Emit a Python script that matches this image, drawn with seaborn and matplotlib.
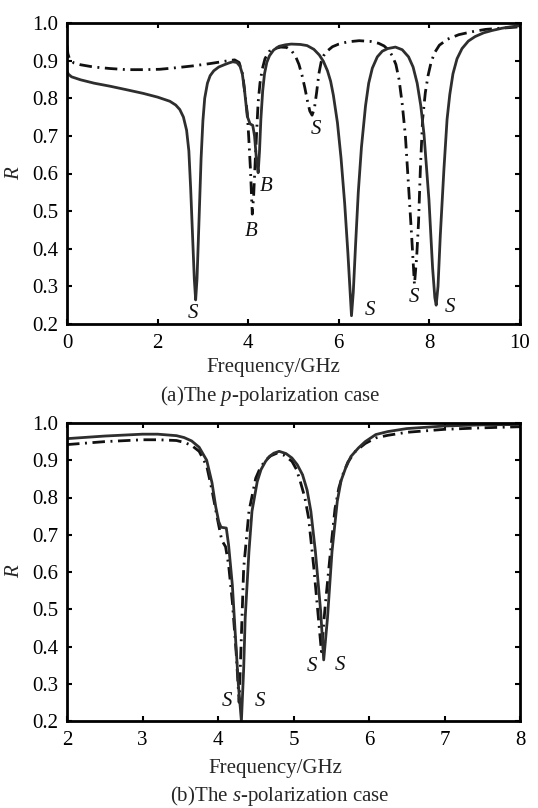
import matplotlib
matplotlib.use("Agg")
import matplotlib.pyplot as plt
import seaborn as sns

# ---------------- data ----------------
# (a) p-polarization, solid curve
p_solid_f = [0.0, 0.03, 0.1, 0.3, 0.6, 0.95, 1.3, 1.68, 2.0, 2.27, 2.40, 2.49, 2.57, 2.64, 2.69,
             2.73, 2.77, 2.81, 2.84, 2.87, 2.91, 2.96, 3.00, 3.04, 3.10, 3.16, 3.24, 3.35, 3.47,
             3.58, 3.66, 3.75, 3.82, 3.87, 3.92, 3.98, 4.04, 4.10, 4.14, 4.18, 4.22, 4.25, 4.28,
             4.32, 4.36, 4.41, 4.47, 4.56, 4.68, 4.82, 4.95, 5.15, 5.30, 5.45, 5.57, 5.66, 5.75,
             5.82, 5.88, 5.97, 6.05, 6.13, 6.20, 6.25, 6.28, 6.32, 6.37, 6.43, 6.50, 6.59, 6.66,
             6.74, 6.85, 6.96, 7.08, 7.25, 7.40, 7.54, 7.64, 7.73, 7.81, 7.88, 7.99, 8.07, 8.12,
             8.15, 8.19, 8.24, 8.32, 8.39, 8.45, 8.52, 8.61, 8.72, 8.86, 9.01, 9.2, 9.38, 9.6,
             9.8, 10.0]
p_solid_R = [0.872, 0.864, 0.857, 0.849, 0.840, 0.832, 0.823, 0.813, 0.803, 0.792, 0.782, 0.770,
             0.750, 0.715, 0.660, 0.560, 0.440, 0.320, 0.264, 0.320, 0.460, 0.640, 0.740, 0.800,
             0.840, 0.860, 0.873, 0.883, 0.889, 0.894, 0.897, 0.895, 0.885, 0.865, 0.820, 0.752,
             0.732, 0.728, 0.700, 0.640, 0.602, 0.660, 0.745, 0.820, 0.865, 0.895, 0.913, 0.928,
             0.938, 0.942, 0.944, 0.943, 0.940, 0.930, 0.915, 0.898, 0.873, 0.845, 0.808, 0.735,
             0.640, 0.520, 0.390, 0.285, 0.222, 0.285, 0.410, 0.550, 0.670, 0.780, 0.840, 0.880,
             0.910, 0.925, 0.932, 0.936, 0.929, 0.910, 0.883, 0.840, 0.780, 0.705, 0.530, 0.350,
             0.270, 0.250, 0.300, 0.434, 0.610, 0.744, 0.810, 0.865, 0.905, 0.932, 0.952, 0.964,
             0.974, 0.980, 0.986, 0.990, 0.993]

# (a) p-polarization, dash-dot curve
p_dash_f = [0.0, 0.02, 0.06, 0.15, 0.3, 0.59, 0.95, 1.32, 1.7, 2.05, 2.4, 2.78, 3.15, 3.52, 3.70,
            3.80, 3.88, 3.94, 3.98, 4.01, 4.05, 4.09, 4.12, 4.15, 4.19, 4.22, 4.26, 4.31, 4.37,
            4.46, 4.58, 4.72, 4.85, 4.96, 5.05, 5.12, 5.19, 5.25, 5.31, 5.36, 5.41, 5.46, 5.51,
            5.56, 5.61, 5.67, 5.75, 5.86, 6.00, 6.2, 6.45, 6.7, 6.88, 7.00, 7.10, 7.18, 7.26,
            7.33, 7.40, 7.47, 7.54, 7.61, 7.67, 7.72, 7.76, 7.80, 7.85, 7.91, 7.97, 8.04, 8.12,
            8.22, 8.40, 8.65, 8.95, 9.24, 9.55, 9.80, 10.0]
p_dash_R = [0.940, 0.918, 0.903, 0.894, 0.889, 0.883, 0.879, 0.876, 0.876, 0.877, 0.881, 0.886,
            0.892, 0.899, 0.902, 0.895, 0.862, 0.800, 0.760, 0.700, 0.610, 0.492, 0.540, 0.620,
            0.720, 0.790, 0.840, 0.877, 0.905, 0.924, 0.932, 0.936, 0.935, 0.926, 0.910, 0.890,
            0.860, 0.828, 0.792, 0.766, 0.755, 0.772, 0.815, 0.865, 0.896, 0.914, 0.926, 0.937,
            0.944, 0.950, 0.953, 0.951, 0.946, 0.939, 0.928, 0.913, 0.890, 0.850, 0.785, 0.700,
            0.566, 0.430, 0.305, 0.380, 0.470, 0.610, 0.744, 0.815, 0.860, 0.897, 0.922, 0.941,
            0.957, 0.969, 0.977, 0.983, 0.986, 0.988, 0.990]

# (b) s-polarization, solid curve
s_solid_f = [2.0, 2.5, 3.0, 3.2, 3.45, 3.55, 3.65, 3.75, 3.85, 3.92, 3.97, 4.01, 4.04, 4.11, 4.14,
             4.19, 4.23, 4.27, 4.31, 4.34, 4.36, 4.41, 4.45, 4.52, 4.57, 4.63, 4.68, 4.74, 4.81,
             4.90, 4.98, 5.05, 5.12, 5.18, 5.23, 5.29, 5.36, 5.40, 5.45, 5.51, 5.58, 5.63, 5.69,
             5.76, 5.86, 5.95, 6.09, 6.25, 6.5, 7.0, 7.5, 8.0]
s_solid_R = [0.958, 0.965, 0.970, 0.970, 0.966, 0.961, 0.952, 0.935, 0.900, 0.840, 0.775, 0.735,
             0.720, 0.718, 0.673, 0.565, 0.430, 0.297, 0.200, 0.340, 0.476, 0.655, 0.763, 0.843,
             0.875, 0.897, 0.910, 0.919, 0.924, 0.918, 0.906, 0.888, 0.861, 0.820, 0.763, 0.655,
             0.494, 0.364, 0.476, 0.655, 0.790, 0.845, 0.879, 0.910, 0.933, 0.950, 0.969, 0.977,
             0.985, 0.992, 0.995, 0.996]

# (b) s-polarization, dash-dot curve
s_dash_f = [2.0, 2.5, 3.0, 3.2, 3.45, 3.55, 3.65, 3.75, 3.85, 3.92, 3.99, 4.05, 4.10, 4.14, 4.19,
            4.24, 4.28, 4.31, 4.34, 4.41, 4.50, 4.56, 4.63, 4.70, 4.78, 4.88, 4.98, 5.04, 5.09,
            5.15, 5.20, 5.27, 5.33, 5.37, 5.42, 5.49, 5.55, 5.60, 5.65, 5.72, 5.82, 5.95, 6.09,
            6.25, 6.5, 7.0, 7.5, 8.0]
s_dash_R = [0.942, 0.950, 0.955, 0.955, 0.953, 0.948, 0.940, 0.924, 0.885, 0.820, 0.745, 0.685,
            0.668, 0.620, 0.520, 0.386, 0.250, 0.430, 0.610, 0.763, 0.852, 0.880, 0.900, 0.912,
            0.919, 0.913, 0.897, 0.875, 0.843, 0.800, 0.745, 0.610, 0.476, 0.386, 0.510, 0.655,
            0.770, 0.825, 0.860, 0.895, 0.924, 0.945, 0.960, 0.967, 0.975, 0.983, 0.987, 0.990]

# annotation labels: (text, frequency, R)
p_labels = [("S", 2.78, 0.229), ("B", 4.07, 0.447), ("B", 4.40, 0.566), ("S", 5.49, 0.717),
            ("S", 6.68, 0.235), ("S", 7.66, 0.270), ("S", 8.46, 0.244)]
s_labels = [("S", 4.12, 0.253), ("S", 4.56, 0.253), ("S", 5.24, 0.347), ("S", 5.62, 0.350)]

p_xticks = [0, 2, 4, 6, 8, 10]
s_xticks = [2, 3, 4, 5, 6, 7, 8]
y_ticks = [0.2, 0.3, 0.4, 0.5, 0.6, 0.7, 0.8, 0.9, 1.0]

# ---------------- style ----------------
sns.set_theme(style="ticks")
plt.rcParams["font.family"] = ["Liberation Serif", "DejaVu Serif"]
plt.rcParams["mathtext.fontset"] = "custom"
plt.rcParams["mathtext.rm"] = "Liberation Serif"
plt.rcParams["mathtext.it"] = "Liberation Serif:italic"

FS = 15
W, H = 538, 808
fig = plt.figure(figsize=(W / 100, H / 100), dpi=100)
fig.patch.set_facecolor("white")


def rect(l, r, t, b):
    return [l / W, 1 - b / H, (r - l) / W, (b - t) / H]


ax1 = fig.add_axes(rect(67, 520, 23, 324))
ax2 = fig.add_axes(rect(67, 520, 423, 721))

solid_kw = dict(color="#2e2e2e", linewidth=2.0, sort=False, estimator=None)
dash_kw = dict(color="#111111", linewidth=2.0, sort=False, estimator=None,
               linestyle=(0, (4.5, 2.0, 0.7, 2.0)))

sns.lineplot(x=p_dash_f, y=p_dash_R, ax=ax1, **dash_kw)
sns.lineplot(x=p_solid_f, y=p_solid_R, ax=ax1, **solid_kw)
sns.lineplot(x=s_dash_f, y=s_dash_R, ax=ax2, **dash_kw)
sns.lineplot(x=s_solid_f, y=s_solid_R, ax=ax2, **solid_kw)

for ax, xt, labs in [(ax1, p_xticks, p_labels), (ax2, s_xticks, s_labels)]:
    ax.set_xlim(xt[0], xt[-1])
    ax.set_ylim(0.2, 1.0)
    ax.set_xticks(xt)
    ax.set_xticklabels([str(v) for v in xt])
    ax.set_yticks(y_ticks)
    ax.set_yticklabels([f"{v:.1f}" for v in y_ticks])
    ax.tick_params(direction="in", length=3.5, width=1.5, top=True, right=True,
                   labelsize=FS, pad=6, colors="black")
    ax.tick_params(axis="x", pad=7)
    for sp in ax.spines.values():
        sp.set_linewidth(2.0)
        sp.set_color("black")
        sp.set_visible(True)
    ax.set_xlabel("")
    ax.set_ylabel("R", fontsize=FS, style="italic")
    ax.yaxis.set_label_coords(-43 / 453, 0.5)
    for t, fx, fy in labs:
        ax.text(fx, fy, t, fontsize=FS, style="italic", ha="center", va="center",
                color="#111111")

fig.text(273 / W, 1 - 367 / H, "Frequency/GHz", fontsize=FS, ha="center", va="center")
fig.text(270 / W, 1 - 396 / H, "(a)The $p$-polarization case", fontsize=FS,
         ha="center", va="center")
fig.text(275 / W, 1 - 769 / H, "Frequency/GHz", fontsize=FS, ha="center", va="center")
fig.text(280 / W, 1 - 796 / H, "(b)The $s$-polarization case", fontsize=FS,
         ha="center", va="center")

fig.savefig("out.png", dpi=100, facecolor="white")
